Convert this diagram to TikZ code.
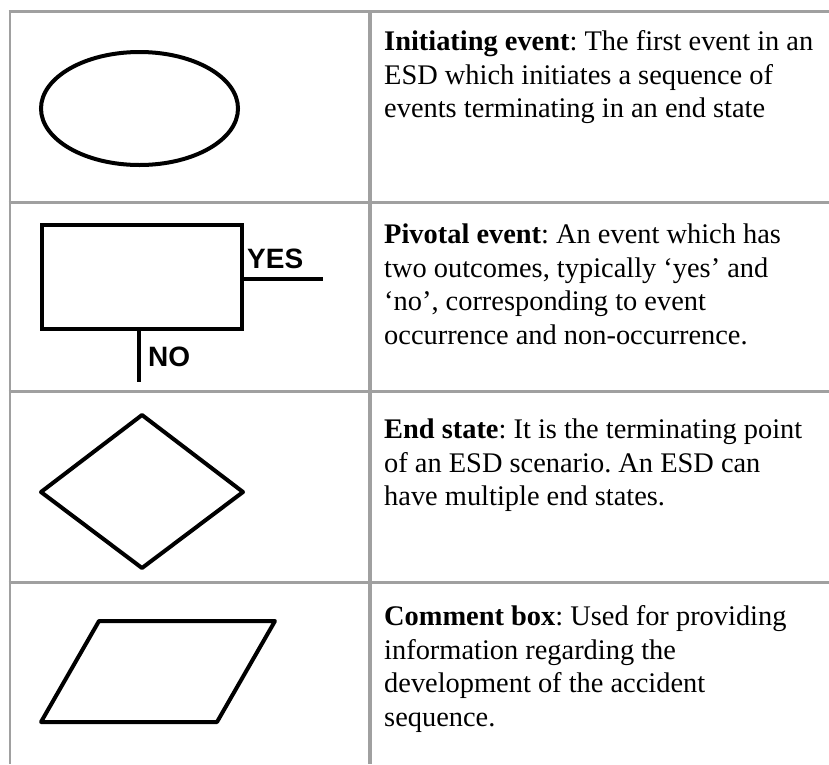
\documentclass[tikz,border=0pt]{standalone}
\usepackage{fontspec}
\setmainfont{Liberation Serif}
\newfontfamily\labelsans{Liberation Sans}
\usetikzlibrary{shapes.geometric}
\definecolor{rulegray}{RGB}{160,160,160}
\frenchspacing
\begin{document}
\begin{tikzpicture}[x=1pt,y=-1pt,
  rule/.style={draw=rulegray,line width=3pt},
  symbol/.style={draw=black,line width=4pt,fill=white,inner sep=0pt},
  stub/.style={draw=black,line width=4pt},
  outcome/.style={font=\labelsans\bfseries\fontsize{28}{30}\selectfont,inner sep=0pt},
  desc/.style={anchor=north west,inner sep=0pt,align=left,
    font=\fontsize{28.4}{33.8}\selectfont}]
\useasboundingbox (0,0) rectangle (829,764);

% table rules
\foreach \yy in {11,202,391,582}
  \draw[rule] (8.5,\yy) -- (829,\yy);
\draw[rulegray,line width=2.5pt] (10,11) -- (10,764);
\draw[rulegray,line width=4pt] (369.5,11) -- (369.5,764);

% row 1: initiating event
\node[symbol,ellipse,minimum width=197pt,minimum height=113pt] (init) at (139.5,108.5) {};
\node[desc] (initdesc) at (384,50-23.66)
  {\strut\textbf{Initiating event}: The first event in an\\
   ESD which initiates a sequence of\\
   events terminating in an end state};

% row 2: pivotal event with its two outcomes
\node[symbol,rectangle,minimum width=200pt,minimum height=104pt] (pivot) at (142,277) {};
\coordinate (yesend) at (323,279);
\coordinate (noend) at (139,382);
\draw[stub] (pivot.east |- yesend) -- (yesend);
\draw[stub] (pivot.south -| noend) -- (noend);
\node[outcome,anchor=base west] (yes) at (247,268) {YES};
\node[outcome,anchor=base west] (no) at (148,366) {NO};
\node[desc] (pivotdesc) at (384,243-23.66)
  {\strut\textbf{Pivotal event}: An event which has\\
   two outcomes, typically ‘yes’ and\\
   ‘no’, corresponding to event\\
   occurrence and non-occurrence.};

% row 3: end state
\draw[black,line width=4pt,line join=round,fill=white]
  (142,415) -- (243,492) -- (142,568) -- (41,492) -- cycle;
\node[desc] (enddesc) at (384,438-23.66)
  {\strut\textbf{End state}: It is the terminating point\\
   of an ESD scenario. An ESD can\\
   have multiple end states.};

% row 4: comment box
\draw[black,line width=4pt,line join=round,fill=white]
  (99,621) -- (275,621) -- (217,722) -- (41,722) -- cycle;
\node[desc] (commentdesc) at (384,625-23.66)
  {\strut\textbf{Comment box}: Used for providing\\
   information regarding the\\
   development of the accident\\
   sequence.};
\end{tikzpicture}
\end{document}
